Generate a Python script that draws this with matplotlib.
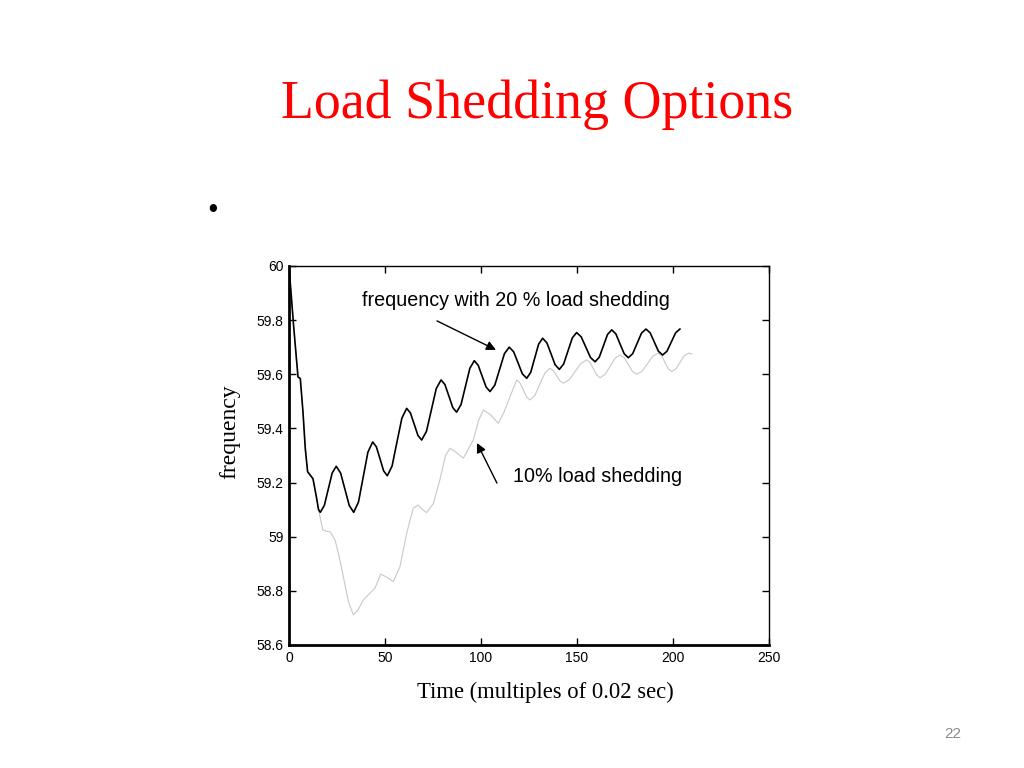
import matplotlib
matplotlib.use("Agg")
import matplotlib.pyplot as plt

# ---- data ----
x_20 = [0, 2.4, 4.7, 5.9, 7.3, 8.5, 9.7, 12.5, 14.2, 15.4, 16.3,
        18.4, 20.45, 22.5, 24.6,
        26.9, 29.15, 31.4, 33.7,
        36.2, 38.65, 41.1, 43.6,
        45.5, 47.4, 49.3, 51.2,
        53.7, 56.25, 58.8, 61.3,
        63.25, 65.2, 67.15, 69.1,
        71.6, 74.15, 76.7, 79.2,
        81.2, 83.25, 85.3, 87.3,
        89.6, 91.9, 94.2, 96.5,
        98.55, 100.6, 102.65, 104.7,
        107.2, 109.7, 112.2, 114.7,
        117.0, 119.25, 121.5, 123.8,
        125.9, 127.95, 130.0, 132.1,
        134.3, 136.45, 138.6, 140.8,
        143.05, 145.3, 147.55, 149.8,
        152.2, 154.6, 157.0, 159.4,
        161.6, 163.75, 165.9, 168.1,
        170.25, 172.4, 174.55, 176.7,
        179.0, 181.3, 183.6, 185.9,
        188.1, 190.25, 192.4, 194.6,
        196.85, 199.1, 201.35, 203.6]
f_20 = [60.0, 59.78, 59.59, 59.584, 59.46, 59.325, 59.24, 59.214, 59.15, 59.10, 59.09,
        59.115, 59.175, 59.235, 59.26,
        59.235, 59.175, 59.115, 59.09,
        59.128, 59.22, 59.312, 59.35,
        59.332, 59.288, 59.243, 59.225,
        59.261, 59.35, 59.438, 59.474,
        59.457, 59.416, 59.374, 59.357,
        59.389, 59.468, 59.547, 59.579,
        59.562, 59.52, 59.477, 59.46,
        59.488, 59.555, 59.622, 59.65,
        59.633, 59.593, 59.553, 59.536,
        59.56, 59.618, 59.676, 59.70,
        59.683, 59.643, 59.602, 59.585,
        59.607, 59.659, 59.711, 59.733,
        59.716, 59.676, 59.635, 59.618,
        59.638, 59.686, 59.734, 59.754,
        59.738, 59.70, 59.662, 59.646,
        59.663, 59.705, 59.747, 59.764,
        59.749, 59.712, 59.676, 59.661,
        59.676, 59.714, 59.752, 59.767,
        59.753, 59.719, 59.685, 59.671,
        59.685, 59.719, 59.753, 59.767]

x_10 = [0, 2.4, 4.7, 5.9, 7.3, 8.5, 9.7, 12.5, 14.2, 15.4,
        17.6, 19.5, 21.4, 24.0, 26.0, 28.3, 31.0, 33.5, 36.0, 38.7,
        41.3, 44.8, 47.8, 51.0, 54.3, 57.8, 61.3, 64.7, 67.3, 69.5,
        71.7, 75.2, 78.6, 81.5, 83.9, 87.3, 90.8, 96.0, 98.8, 101.2,
        105.0, 109.0, 112.0, 115.1, 118.6,
        120.3, 122.05, 123.8, 125.5,
        128.1, 130.7, 133.3, 135.9,
        137.65, 139.4, 141.15, 142.9,
        145.95, 149.0, 152.05, 155.1,
        156.8, 158.55, 160.3, 162.0,
        164.6, 167.2, 169.8, 172.4,
        174.6, 176.75, 178.9, 181.1,
        183.9, 186.7, 189.5, 192.3,
        194.05, 195.8, 197.55, 199.3,
        201.5, 203.65, 205.8, 208.0, 209.9]
f_10 = [60.0, 59.78, 59.59, 59.584, 59.46, 59.325, 59.24, 59.214, 59.15, 59.10,
        59.025, 59.02, 59.018, 58.988, 58.93, 58.852, 58.76, 58.711, 58.73, 58.766,
        58.785, 58.81, 58.862, 58.85, 58.834, 58.889, 59.013, 59.105, 59.117, 59.10,
        59.089, 59.123, 59.21, 59.30, 59.327, 59.31, 59.29, 59.357, 59.43, 59.468,
        59.45, 59.419, 59.46, 59.517, 59.579,
        59.568, 59.542, 59.516, 59.505,
        59.522, 59.564, 59.605, 59.622,
        59.614, 59.595, 59.575, 59.567,
        59.58, 59.61, 59.64, 59.653,
        59.643, 59.62, 59.597, 59.587,
        59.599, 59.629, 59.659, 59.671,
        59.661, 59.636, 59.61, 59.60,
        59.611, 59.639, 59.667, 59.678,
        59.668, 59.644, 59.62, 59.61,
        59.62, 59.644, 59.668, 59.678, 59.675]

x_ticks = [0, 50, 100, 150, 200, 250]
y_ticks = [58.6, 58.8, 59.0, 59.2, 59.4, 59.6, 59.8, 60.0]
y_labels = ["58.6", "58.8", "59", "59.2", "59.4", "59.6", "59.8", "60"]

title = "Load Shedding Options"
label_20 = "frequency with 20 % load shedding"
label_10 = "10% load shedding"
x_title = "Time (multiples of 0.02 sec)"
y_title = "frequency"

# ---- figure ----
fig = plt.figure(figsize=(10.24, 7.68), dpi=100)
fig.patch.set_facecolor("white")
serif = ["Liberation Serif", "DejaVu Serif"]
sans = ["Liberation Sans", "DejaVu Sans"]

fig.text(0.5245, 0.8635, title, color="#ff0000", fontsize=38.8, family=serif,
         ha="center", va="center")
fig.text(0.208, 0.725, "\u2022", color="black", fontsize=22, family=serif,
         ha="center", va="center")
fig.text(0.93, 0.044, "22", color="#8c8c8c", fontsize=11, family=sans,
         ha="center", va="center")
fig.text(545.5 / 1024, 1 - 692 / 768, x_title, fontsize=16.3, family=serif,
         ha="center", va="center")
fig.text(230 / 1024, 1 - 431.5 / 768, y_title, fontsize=17, family=serif,
         ha="center", va="center", rotation=90)

ax = fig.add_axes([0.2822, 0.1602, 0.4688, 0.4935])
ax.plot(x_10, f_10, color="#c8c8c8", lw=0.8, solid_joinstyle="round")
ax.plot(x_20, f_20, color="black", lw=1.2, solid_joinstyle="round")

ax.set_xlim(0, 250)
ax.set_ylim(58.6, 60.0)
ax.set_xticks(x_ticks)
ax.set_xticklabels([str(t) for t in x_ticks])
ax.set_yticks(y_ticks)
ax.set_yticklabels(y_labels)
ax.tick_params(direction="in", length=5, width=1, top=True, right=True,
               labelsize=10, pad=4)
for lab in ax.get_xticklabels() + ax.get_yticklabels():
    lab.set_family(sans)
for side in ["left", "bottom"]:
    ax.spines[side].set_linewidth(2.0)
for side in ["top", "right"]:
    ax.spines[side].set_linewidth(1.0)

ax.text(118.2, 59.871, label_20, fontsize=14.2, family=sans, ha="center", va="center")
ax.text(160.9, 59.224, label_10, fontsize=14.2, family=sans, ha="center", va="center")
ax.annotate("", xy=(107.8, 59.69), xytext=(77.1, 59.797),
            arrowprops=dict(arrowstyle="-|>", color="black", lw=1.0,
                            mutation_scale=14, shrinkA=0, shrinkB=0))
ax.annotate("", xy=(97.9, 59.346), xytext=(108.3, 59.198),
            arrowprops=dict(arrowstyle="-|>", color="black", lw=1.0,
                            mutation_scale=14, shrinkA=0, shrinkB=0))

fig.savefig("out.png", dpi=100, facecolor="white")
